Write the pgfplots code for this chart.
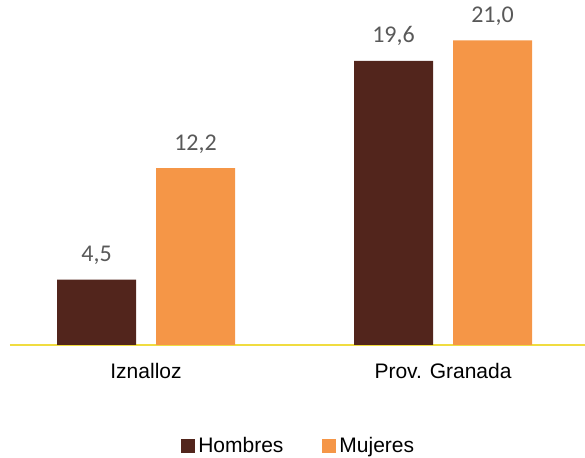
\documentclass[border=0pt]{standalone}
\usepackage{pgfplots}
\pgfplotsset{compat=1.18}
\usepackage{fontspec}
\setmainfont{Liberation Sans}
\newfontfamily\valfont{Carlito}
\definecolor{hom}{HTML}{52251C}
\definecolor{muj}{HTML}{F59647}
\definecolor{linecol}{HTML}{F0DC40}
\definecolor{valgray}{HTML}{595959}
\begin{document}
\begin{tikzpicture}
\path[use as bounding box] (0,0) rectangle (585pt,457pt);
\begin{axis}[
  at={(10pt,112pt)}, anchor=south west,
  scale only axis, width=575pt, height=345pt,
  xmin=-0.4579, xmax=1.478, ymin=0, ymax=23.79,
  ybar=20pt, bar width=79pt,
  axis x line=bottom, axis y line=none,
  axis line style={draw=linecol, line width=2pt, -},
  xtick={0,1}, xticklabels={Iznalloz, Prov. Granada},
  xtick style={draw=none},
  xticklabel style={font=\fontsize{21}{24}\selectfont, anchor=base, yshift=-31pt},
  clip=false,
  nodes near coords,
  /pgf/number format/assume math mode=true,
  /pgf/number format/fixed, /pgf/number format/fixed zerofill,
  /pgf/number format/precision=1, /pgf/number format/use comma,
  nodes near coords style={font=\valfont\fontsize{24}{27}\selectfont, text=valgray, anchor=base, yshift=18pt, inner sep=0pt},
  legend style={draw=none, at={(0.503,-0.292)}, anchor=center, legend columns=2,
    font=\fontsize{21}{24}\selectfont, inner sep=0pt,
    nodes={inner xsep=3.5pt, inner ysep=0pt},
    /tikz/every even column/.append style={column sep=35pt}},
  legend image code/.code={\fill[#1,draw=none] (0pt,-7pt) rectangle (14pt,7pt);},
]
\addplot[fill=hom, draw=none] coordinates {(0,4.5) (1,19.6)};
\addplot[fill=muj, draw=none] coordinates {(0,12.2) (1,21.0)};
\legend{Hombres, Mujeres}
\end{axis}
\end{tikzpicture}
\end{document}
